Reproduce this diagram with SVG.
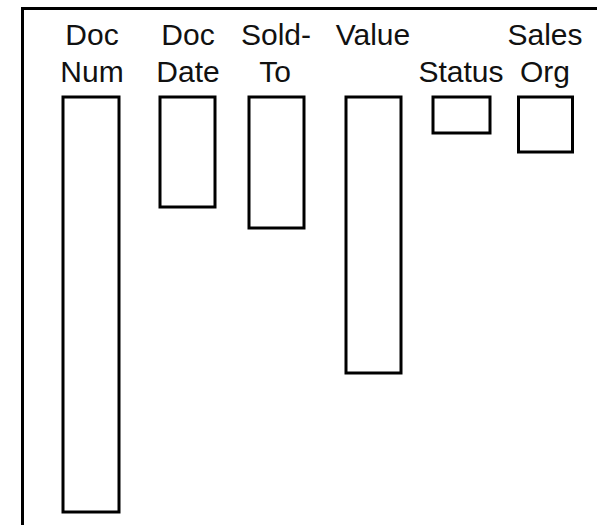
<svg xmlns="http://www.w3.org/2000/svg" width="597" height="525" viewBox="0 0 597 525">
<style>
.box{fill:#fff;stroke:#000;stroke-width:3}
.lbl{font-family:"Liberation Sans",Arial,sans-serif;font-size:30px;fill:#111;text-anchor:middle}
</style>
<rect width="597" height="525" fill="#fff"/>
<g id="frame"><rect x="22.5" y="8.5" width="620" height="600" fill="none" stroke="#000" stroke-width="3"/></g>
<g id="docnum">
<text class="lbl" x="92" y="45">Doc</text>
<text class="lbl" x="92" y="82">Num</text>
<rect class="box" x="63" y="97" width="56" height="415"/>
</g>
<g id="docdate">
<text class="lbl" x="188" y="45">Doc</text>
<text class="lbl" x="188" y="82">Date</text>
<rect class="box" x="160" y="97" width="55" height="110"/>
</g>
<g id="soldto">
<text class="lbl" x="276" y="45">Sold-</text>
<text class="lbl" x="275" y="82">To</text>
<rect class="box" x="249" y="97" width="55" height="131"/>
</g>
<g id="value">
<text class="lbl" x="373" y="45">Value</text>
<rect class="box" x="346" y="97" width="55" height="276"/>
</g>
<g id="status">
<text class="lbl" x="461" y="82">Status</text>
<rect class="box" x="433" y="97" width="57" height="36"/>
</g>
<g id="salesorg">
<text class="lbl" x="545" y="45">Sales</text>
<text class="lbl" x="545" y="82">Org</text>
<rect class="box" x="518.5" y="97" width="54" height="55"/>
</g>
</svg>
